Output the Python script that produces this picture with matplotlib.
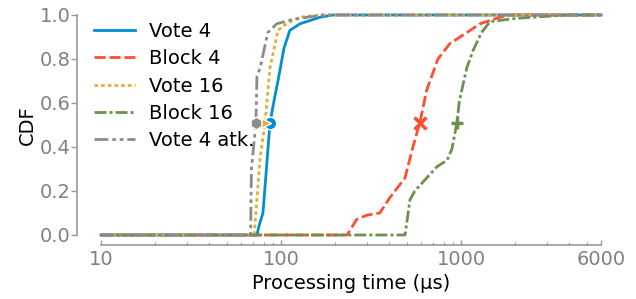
import numpy as np
import matplotlib
matplotlib.use('Agg')
import matplotlib.pyplot as plt

# CDF curves (x in microseconds)
vote4_x = [10, 73.5, 76, 79.4, 83, 86.9, 92, 96.2, 104, 112, 127.5, 165, 194, 6000]
vote4_y = [0, 0, 0.05, 0.1, 0.3, 0.51, 0.62, 0.7, 0.85, 0.93, 0.96, 0.99, 1.0, 1.0]

block4_x = [10, 233, 263, 300, 354, 403, 489, 541, 591, 646, 745, 868, 1078, 1276, 1648, 1870, 6000]
block4_y = [0, 0, 0.07, 0.09, 0.1, 0.17, 0.26, 0.4, 0.51, 0.66, 0.8, 0.87, 0.92, 0.96, 0.99, 1.0, 1.0]

vote16_x = [10, 71, 76.6, 81.5, 86.9, 96.2, 107, 127.5, 165, 6000]
vote16_y = [0, 0, 0.35, 0.51, 0.76, 0.93, 0.96, 0.99, 1.0, 1.0]

block16_x = [10, 489, 521, 554, 646, 735, 837, 890, 950, 980, 1078, 1170, 1300, 1450, 2040, 3880, 6000]
block16_y = [0, 0, 0.16, 0.2, 0.26, 0.31, 0.34, 0.39, 0.51, 0.61, 0.76, 0.84, 0.92, 0.97, 0.985, 1.0, 1.0]

atk_x = [10, 67.8, 68.5, 72.6, 73.5, 76.6, 84.5, 94.7, 116, 171, 6000]
atk_y = [0, 0, 0.3, 0.51, 0.72, 0.76, 0.92, 0.96, 0.98, 1.0, 1.0]

medians = [86.9, 591, 81.5, 950, 72.6]
labels = ['Vote 4', 'Block 4', 'Vote 16', 'Block 16', 'Vote 4 atk.']
xticks = [10, 100, 1000, 6000]

colors = ['#008FD5', '#FC4F30', '#E5AE38', '#6D904F', '#8B8B8B']
styles = ['-', (0, (4, 1.4)), (0, (1.3, 1.1)), (0, (4.3, 1.1, 1.1, 1.1)),
          (0, (5, 1.4, 1.3, 1.4, 1.3, 1.4))]
mks = ['o', 'x', '>', '+', 'h']

plt.rcParams['font.family'] = ['DejaVu Sans']
fig = plt.figure(figsize=(6.36, 2.99), dpi=100)
ax = fig.add_axes([101/636, 64/299, 500/636, 220/299])

series = [(vote4_x, vote4_y), (block4_x, block4_y), (vote16_x, vote16_y),
          (block16_x, block16_y), (atk_x, atk_y)]
for (xs, ys), lab, c, ls in zip(series, labels, colors, styles):
    ax.plot(xs, ys, color=c, ls=ls, lw=2, label=lab, clip_on=False)
for m, c, mk in zip(medians, colors, mks):
    if mk in ('x', '+'):
        ax.plot(m, 0.51, marker=mk, color=c, ms=8, mew=2.5, ls='none', zorder=5)
    else:
        ax.plot(m, 0.51, marker=mk, color=c, ms=9, mec='white', mew=1, ls='none', zorder=5)

ax.set_xscale('log')
ax.set_xlim(10, 6000)
ax.set_ylim(0, 1)
ax.set_xticks(xticks)
ax.set_xticklabels([str(t) for t in xticks])
ax.set_yticks([0, 0.2, 0.4, 0.6, 0.8, 1.0])
ax.set_yticklabels(['0.0', '0.2', '0.4', '0.6', '0.8', '1.0'])

for s in ['top', 'right']:
    ax.spines[s].set_visible(False)
ax.spines['left'].set_position(('outward', 17))
ax.spines['bottom'].set_position(('outward', 7))
ax.spines['left'].set_bounds(0, 1)
ax.spines['bottom'].set_bounds(10, 6000)
for s in ['left', 'bottom']:
    ax.spines[s].set_color('#999999')
    ax.spines[s].set_linewidth(1.2)
ax.tick_params(axis='y', which='major', colors='#999999', labelcolor='#808080',
               labelsize=14, length=4, width=1, pad=1)
ax.tick_params(axis='x', which='major', direction='in', colors='#999999', labelcolor='#808080',
               labelsize=14, length=3.5, width=1, pad=3.5)
ax.tick_params(axis='x', which='minor', direction='in', colors='#999999', length=2, width=0.8)
ax.set_facecolor('white')

ax.set_xlabel('Processing time (µs)', fontsize=14, labelpad=4)
ax.set_ylabel('CDF', fontsize=14, labelpad=2)

ax.legend(loc='upper left', bbox_to_anchor=(86/636, 1 - 14/299), bbox_transform=fig.transFigure,
          frameon=False, fontsize=14, handlelength=2.1, handletextpad=0.75,
          labelspacing=0.43, borderaxespad=0)

fig.savefig('out.png', dpi=100)
